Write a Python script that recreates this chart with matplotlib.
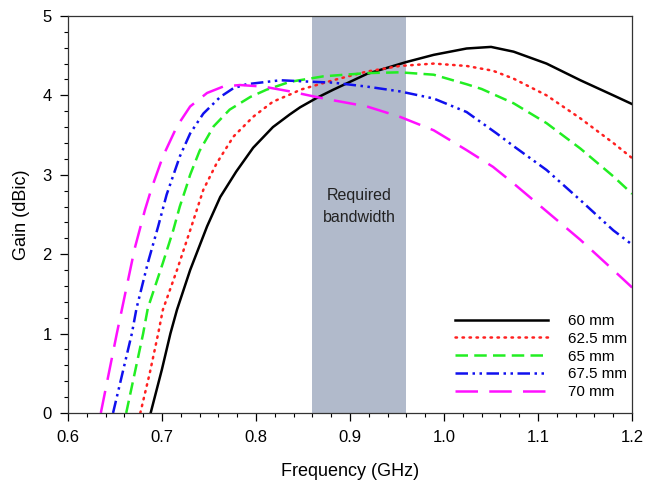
import matplotlib.pyplot as plt
from matplotlib.ticker import MultipleLocator

# gain curves (dBic) vs frequency (GHz) for each patch size
f_60 = [0.688, 0.700, 0.709, 0.716, 0.730, 0.748, 0.762, 0.779, 0.797, 0.818, 0.836, 0.847,
        0.865, 0.882, 0.918, 0.960, 0.989, 1.024, 1.050, 1.074, 1.109, 1.145, 1.180, 1.200]
g_60 = [0.00, 0.55, 1.00, 1.30, 1.80, 2.35, 2.72, 3.04, 3.34, 3.60, 3.76, 3.85,
        3.97, 4.07, 4.27, 4.42, 4.51, 4.59, 4.61, 4.55, 4.40, 4.19, 4.00, 3.89]

f_625 = [0.677, 0.687, 0.696, 0.701, 0.716, 0.730, 0.744, 0.758, 0.776, 0.797, 0.818, 0.840,
         0.847, 0.882, 0.918, 0.953, 0.989, 1.024, 1.052, 1.074, 1.109, 1.145, 1.180, 1.200]
g_625 = [0.00, 0.50, 1.00, 1.30, 1.80, 2.30, 2.81, 3.14, 3.48, 3.73, 3.92, 4.03,
         4.07, 4.19, 4.30, 4.37, 4.40, 4.37, 4.31, 4.21, 4.00, 3.71, 3.40, 3.21]

f_65 = [0.662, 0.680, 0.685, 0.701, 0.712, 0.719, 0.726, 0.730, 0.740, 0.755, 0.772, 0.794,
        0.811, 0.836, 0.872, 0.918, 0.953, 0.989, 1.024, 1.040, 1.074, 1.109, 1.145, 1.180, 1.200]
g_65 = [0.00, 1.00, 1.32, 1.89, 2.30, 2.60, 2.85, 3.00, 3.30, 3.61, 3.82, 3.98,
        4.07, 4.17, 4.24, 4.28, 4.29, 4.26, 4.14, 4.08, 3.90, 3.65, 3.33, 2.98, 2.76]

f_675 = [0.648, 0.668, 0.673, 0.685, 0.696, 0.705, 0.719, 0.730, 0.744, 0.762, 0.776, 0.790,
         0.826, 0.861, 0.882, 0.918, 0.953, 0.989, 1.024, 1.056, 1.074, 1.109, 1.145, 1.180, 1.200]
g_675 = [0.00, 1.00, 1.32, 1.89, 2.35, 2.75, 3.23, 3.52, 3.77, 3.98, 4.09, 4.14,
         4.19, 4.17, 4.16, 4.11, 4.05, 3.96, 3.79, 3.52, 3.36, 3.06, 2.68, 2.30, 2.12]

f_70 = [0.635, 0.652, 0.671, 0.682, 0.689, 0.701, 0.716, 0.730, 0.748, 0.765, 0.783, 0.808,
        0.836, 0.872, 0.918, 0.953, 0.989, 1.024, 1.052, 1.074, 1.109, 1.145, 1.180, 1.200]
g_70 = [0.00, 1.00, 2.07, 2.56, 2.83, 3.23, 3.61, 3.86, 4.03, 4.11, 4.13, 4.11,
        4.05, 3.96, 3.86, 3.73, 3.56, 3.31, 3.10, 2.89, 2.54, 2.18, 1.80, 1.58]

band = (0.86, 0.96)

plt.rcParams['font.family'] = ['Liberation Sans', 'DejaVu Sans']
plt.rcParams['font.size'] = 12

fig = plt.figure(figsize=(6.53, 4.83), dpi=100)
ax = fig.add_axes([0.104, 0.145, 0.864, 0.822])

ax.axvspan(band[0], band[1], color='#b1bacb', lw=0, zorder=0)
ax.text(sum(band) / 2, 2.6, 'Required\nbandwidth', ha='center', va='center',
        fontsize=11.5, color='#222222', linespacing=1.6)

lw = 1.8
ax.plot(f_60, g_60, color='black', lw=lw, label='60 mm')
ax.plot(f_625, g_625, color='#ff2020', lw=lw, ls=(0, (0.6, 2.2)),
        dash_capstyle='round', label='62.5 mm')
ax.plot(f_65, g_65, color='#22ee22', lw=lw, ls=(0, (5, 2.5)), label='65 mm')
ax.plot(f_675, g_675, color='#1010ee', lw=lw, ls=(0, (5, 1.8, 1, 1.8, 1, 1.8)),
        label='67.5 mm')
ax.plot(f_70, g_70, color='#ff10ff', lw=lw, ls=(0, (9, 4.5)), label='70 mm')

ax.set_xlim(0.6, 1.2)
ax.set_ylim(0, 5)
ax.xaxis.set_major_locator(MultipleLocator(0.1))
ax.xaxis.set_minor_locator(MultipleLocator(0.02))
ax.yaxis.set_major_locator(MultipleLocator(1))
ax.yaxis.set_minor_locator(MultipleLocator(0.2))
ax.set_xticklabels([f'{v:.1f}' for v in ax.get_xticks()])
ax.tick_params(which='major', direction='out', length=5.5, width=0.9, labelsize=12)
ax.tick_params(axis='x', which='major', pad=7)
ax.tick_params(axis='y', which='major', pad=6)
ax.tick_params(which='minor', direction='out', length=3, width=0.8)
for s in ax.spines.values():
    s.set_linewidth(0.9)
    s.set_color('#333333')

ax.set_xlabel('Frequency (GHz)', fontsize=13, labelpad=12.5)
ax.set_ylabel('Gain (dBic)', fontsize=13, labelpad=9)

ax.legend(loc='lower right', frameon=False, handlelength=6.1, handletextpad=1.3,
          labelspacing=0.25, fontsize=11, bbox_to_anchor=(1.015, 0.0))

fig.savefig('out.png', dpi=100)
